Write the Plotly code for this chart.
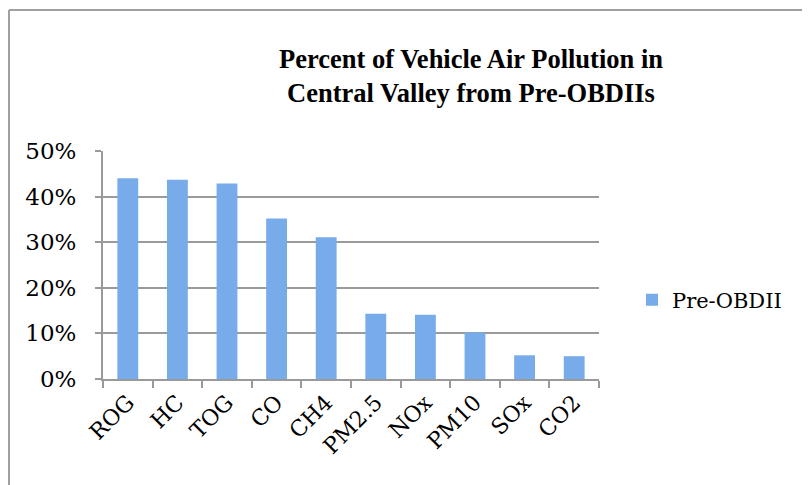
import plotly.graph_objects as go

# Data
categories = ["ROG", "HC", "TOG", "CO", "CH4", "PM2.5", "NOx", "PM10", "SOx", "CO2"]
pre_obdii = [0.440, 0.437, 0.429, 0.352, 0.311, 0.143, 0.141, 0.102, 0.052, 0.050]
y_tickvals = [0, 0.1, 0.2, 0.3, 0.4, 0.5]
y_ticktext = ["0%", "10%", "20%", "30%", "40%", "50%"]
series_name = "Pre-OBDII"
title_text = "Percent of Vehicle Air Pollution in<br>Central Valley from Pre-OBDIIs"

W, H = 810, 485
OFF = 8  # page body offset
L, T = 103 - OFF, 151 - OFF
R, B = W - (599 - OFF), H - (379 - OFF)
pw, ph = W - L - R, H - T - B

def px_x(x):
    return (x - OFF - L) / pw

def px_y(y):
    return (H - B - (y - OFF)) / ph

fig = go.Figure()
fig.add_trace(go.Bar(
    x=categories, y=pre_obdii, name=series_name,
    marker=dict(color="#78ABE9", line=dict(width=0)),
    showlegend=True,
))

grid = "#9a9a9a"
fig.update_layout(
    width=W, height=H,
    margin=dict(l=L, r=R, t=T, b=B),
    paper_bgcolor="white", plot_bgcolor="white",
    bargap=0.58,
    title=dict(
        text=title_text,
        font=dict(family="Liberation Serif", size=26.5, color="black", weight="bold"),
        x=px_x(471), xref="paper", xanchor="center",
        y=1 - 60 / H, yref="container", yanchor="middle",
    ),
    showlegend=True,
    legend=dict(
        x=px_x(632), xanchor="left", y=px_y(300), yanchor="middle",
        font=dict(family="DejaVu Serif", size=21, color="black"),
        bgcolor="rgba(0,0,0,0)",
    ),
    xaxis=dict(
        type="category",
        showgrid=False,
        showline=True, linecolor=grid, linewidth=2,
        ticks="outside", tickson="boundaries", ticklen=7, tickcolor=grid, tickwidth=2,
        tickangle=-45,
        tickfont=dict(family="DejaVu Serif", size=22, color="black"),
    ),
    yaxis=dict(
        range=[0, 0.5],
        tickvals=y_tickvals, ticktext=y_ticktext,
        showgrid=True, gridcolor=grid, gridwidth=2,
        showline=True, linecolor=grid, linewidth=2,
        ticks="outside", ticklen=6, tickcolor=grid, tickwidth=2,
        ticklabelstandoff=14,
        tickfont=dict(family="DejaVu Serif", size=23, color="black"),
        zeroline=False,
    ),
    shapes=[
        dict(type="line", xref="paper", yref="paper",
             x0=px_x(9), x1=px_x(W + 20), y0=px_y(10), y1=px_y(10),
             line=dict(color="#a0a0a0", width=2)),
        dict(type="line", xref="paper", yref="paper",
             x0=px_x(9), x1=px_x(9), y0=px_y(10), y1=px_y(H + 20),
             line=dict(color="#a0a0a0", width=2)),
    ],
)

fig.write_html("out.html")
